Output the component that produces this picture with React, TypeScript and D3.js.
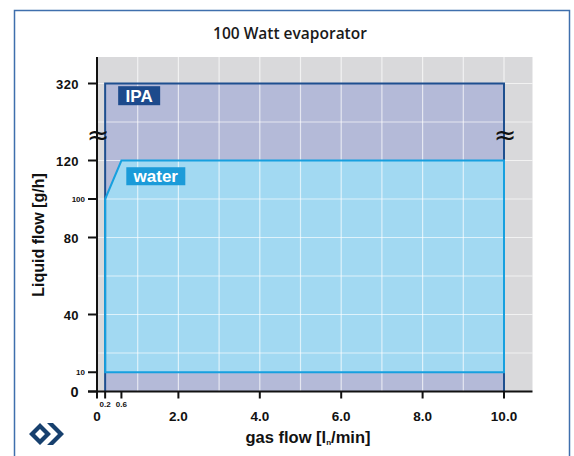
import React, { useRef, useEffect } from "react";
import * as d3 from "d3";

// envelope of the IPA operating range
const ipaGas = [0.2, 0.2, 10, 10];
const ipaLiquid = [0, 320, 320, 0];

// envelope of the water operating range
const waterGas = [0.2, 0.2, 0.6, 10, 10];
const waterLiquid = [10, 100, 120, 120, 10];

const xTicksMain = [0, 2, 4, 6, 8, 10];
const xTickLabels = ["0", "2.0", "4.0", "6.0", "8.0", "10.0"];
const xTicksSmall = [0.2, 0.6];
const xGrid = [1, 2, 3, 4, 5, 6, 7, 8, 9, 10];

const yTicksMain = [0, 40, 80, 120, 320];
const yTicksSmall = [10, 100];
const yGrid = [20, 40, 60, 80, 100, 120, 220, 320];

const W = 574, H = 456;
const BLACK = "#111";
const FONT = "'Liberation Sans', Arial, sans-serif";

export default function App() {
  const ref = useRef<SVGSVGElement>(null);

  useEffect(() => {
    document.body.style.margin = "0";
    const svg = d3.select(ref.current);
    svg.selectAll("*").remove();

    const x = d3.scaleLinear().domain([0, 10]).range([97, 504]);
    // broken axis: 0..120 linear, then a jump up to 320
    const y = d3.scaleLinear().domain([0, 120, 320, 390]).range([391.5, 160.5, 83.5, 57]);
    const xMax = 10.7, yMax = 390;

    // frame
    svg.append("rect")
      .attr("x", 14.5).attr("y", 10.5)
      .attr("width", 555).attr("height", 470)
      .attr("fill", "none")
      .attr("stroke", "#3f6fad")
      .attr("stroke-width", 1.5);

    svg.append("text")
      .attr("x", 290).attr("y", 39)
      .attr("text-anchor", "middle")
      .style("font-family", "'Open Sans', sans-serif")
      .style("font-size", 15.5)
      .style("font-weight", 600)
      .style("fill", "#1a1a1a")
      .text("100 Watt evaporator");

    // plot background
    svg.append("rect")
      .attr("x", x(0)).attr("y", y(yMax))
      .attr("width", x(xMax) - x(0))
      .attr("height", y(0) - y(yMax))
      .attr("fill", "#d9d9db");

    const area = d3.line<[number, number]>().x(d => x(d[0])).y(d => y(d[1]));
    const ipaPath = area(ipaGas.map((g, i) => [g, ipaLiquid[i]]) as [number, number][]);
    const waterPath = area(waterGas.map((g, i) => [g, waterLiquid[i]]) as [number, number][]) + "Z";

    // IPA
    svg.append("path").attr("d", ipaPath).attr("fill", "#b4bad8");
    // water
    svg.append("path").attr("d", waterPath).attr("fill", "#a2d9f2");

    // grid on top, faded
    const grid = svg.append("g").attr("stroke", "#fff").attr("stroke-opacity", 0.65).attr("stroke-width", 1.2);
    grid.selectAll("line.h").data(yGrid).enter().append("line")
      .attr("x1", x(0)).attr("x2", x(xMax))
      .attr("y1", d => y(d)).attr("y2", d => y(d));
    grid.selectAll("line.v").data(xGrid).enter().append("line")
      .attr("y1", y(yMax)).attr("y2", y(0))
      .attr("x1", d => x(d)).attr("x2", d => x(d));

    // outlines over the grid
    svg.append("path")
      .attr("d", ipaPath)
      .attr("fill", "none")
      .attr("stroke", "#1e4f8f")
      .attr("stroke-width", 2);
    svg.append("path")
      .attr("d", waterPath)
      .attr("fill", "none")
      .attr("stroke", "#17a0df")
      .attr("stroke-width", 2);

    // labels in the areas
    svg.append("rect")
      .attr("x", x(0.52)).attr("y", y(313))
      .attr("width", 42).attr("height", 19)
      .attr("fill", "#1d4a8c");
    svg.append("text")
      .attr("x", x(0.52) + 21).attr("y", y(313) + 15.5)
      .attr("text-anchor", "middle")
      .style("font-family", "'Liberation Sans Narrow', " + FONT)
      .style("font-size", 17)
      .style("font-weight", 700)
      .style("fill", "#fff")
      .text("IPA");

    svg.append("rect")
      .attr("x", x(0.72)).attr("y", y(116.5))
      .attr("width", 59).attr("height", 18)
      .attr("fill", "#1b9bd9");
    svg.append("text")
      .attr("x", x(0.72) + 29.5).attr("y", y(116.5) + 14.5)
      .attr("text-anchor", "middle")
      .style("font-family", FONT)
      .style("font-size", 17)
      .style("font-weight", 700)
      .style("fill", "#fff")
      .text("water");

    // axes
    const axes = svg.append("g").attr("stroke", BLACK).attr("stroke-width", 2);
    axes.append("line")
      .attr("x1", x(0)).attr("x2", x(0))
      .attr("y1", y(yMax)).attr("y2", y(0) + 1);
    axes.append("line")
      .attr("x1", x(0) - 9).attr("x2", x(xMax))
      .attr("y1", y(0)).attr("y2", y(0));
    axes.selectAll("line.yt").data([...yTicksMain, ...yTicksSmall]).enter().append("line")
      .attr("x1", x(0) - 9).attr("x2", x(0))
      .attr("y1", d => y(d)).attr("y2", d => y(d));
    axes.selectAll("line.xt").data([...xTicksMain, ...xTicksSmall]).enter().append("line")
      .attr("x1", d => x(d)).attr("x2", d => x(d))
      .attr("y1", y(0)).attr("y2", y(0) + 7);

    svg.append("g").selectAll("text").data(yTicksMain).enter().append("text")
      .attr("x", 79).attr("y", d => y(d) + 5)
      .attr("text-anchor", "end")
      .style("font-family", FONT)
      .style("font-size", d => (d === 0 ? 14.5 : 13))
      .style("font-weight", 700)
      .style("letter-spacing", "0.4px")
      .style("fill", BLACK)
      .text(d => String(d));
    svg.append("g").selectAll("text").data(yTicksSmall).enter().append("text")
      .attr("x", 85).attr("y", d => y(d) + 3)
      .attr("text-anchor", "end")
      .style("font-family", FONT)
      .style("font-size", 8)
      .style("font-weight", 700)
      .style("fill", BLACK)
      .text(d => String(d));

    svg.append("g").selectAll("text").data(xTicksMain).enter().append("text")
      .attr("x", d => x(d)).attr("y", 421)
      .attr("text-anchor", "middle")
      .style("font-family", FONT)
      .style("font-size", 13.5)
      .style("font-weight", 700)
      .style("fill", BLACK)
      .text((d, i) => xTickLabels[i]);
    svg.append("g").selectAll("text").data(xTicksSmall).enter().append("text")
      .attr("x", d => x(d)).attr("y", 406.5)
      .attr("text-anchor", "middle")
      .style("font-family", FONT)
      .style("font-size", 8)
      .style("font-weight", 700)
      .style("fill", BLACK)
      .text(d => d.toFixed(1));

    // axis break marks
    svg.append("g").selectAll("text").data([0, 10]).enter().append("text")
      .attr("x", d => x(d) + 1).attr("y", y(186) + 9)
      .attr("text-anchor", "middle")
      .style("font-family", "'DejaVu Sans', sans-serif")
      .style("font-size", 27)
      .style("fill", BLACK)
      .text("≈");

    // axis titles
    const xt = svg.append("text")
      .attr("x", 308).attr("y", 443)
      .attr("text-anchor", "middle")
      .style("font-family", FONT)
      .style("font-size", 16.5)
      .style("font-weight", 700)
      .style("fill", BLACK);
    xt.append("tspan").text("gas flow [l");
    xt.append("tspan").attr("dy", 2).style("font-size", 8).text("n");
    xt.append("tspan").attr("dy", -2).text("/min]");

    svg.append("text")
      .attr("transform", "translate(43.5,235) rotate(-90)")
      .attr("text-anchor", "middle")
      .style("font-family", FONT)
      .style("font-size", 16)
      .style("font-weight", 700)
      .style("fill", BLACK)
      .text("Liquid flow [g/h]");

    // logo
    const logo = svg.append("g").attr("fill", "#17406e");
    logo.append("path")
      .attr("fill-rule", "evenodd")
      .attr("d", "M29,434L40,423L51,434L40,445Z M35,434L40,429L45,434L40,439Z");
    logo.append("path")
      .attr("d", "M47,423L53,423L64,434L53,445L47,445L58,434Z");
  }, []);

  return <svg ref={ref} width={W} height={H} style={{ display: "block", background: "#fff" }} />;
}
